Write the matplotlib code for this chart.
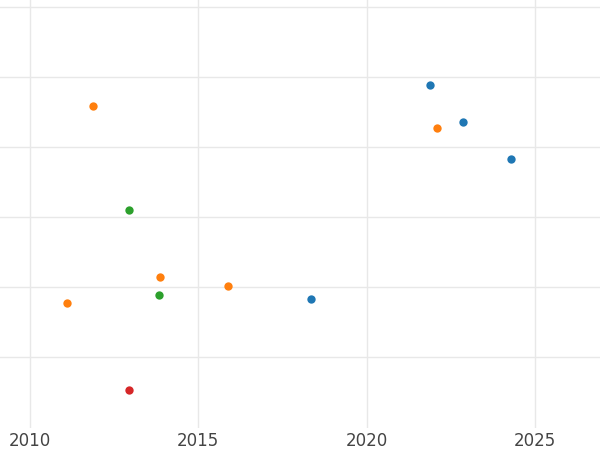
import matplotlib
matplotlib.use("Agg")
import matplotlib.pyplot as plt

blue_x = [2021.88, 2022.86, 2024.29, 2018.35]
blue_y = [3.886, 3.357, 2.829, 0.829]
orange_x = [2011.87, 2022.09, 2013.86, 2015.88, 2011.10]
orange_y = [3.586, 3.271, 1.143, 1.014, 0.771]
green_x = [2012.94, 2013.83]
green_y = [2.1, 0.886]
red_x = [2012.94]
red_y = [-0.471]

fig = plt.figure(figsize=(6, 4.5), dpi=100)
ax = fig.add_axes([0, 0.049, 1, 0.951])
for xs, ys, c in [(blue_x, blue_y, "#1f77b4"), (orange_x, orange_y, "#ff7f0e"),
                  (green_x, green_y, "#2ca02c"), (red_x, red_y, "#d62728")]:
    ax.scatter(xs, ys, s=36, color=c, zorder=3, linewidths=0)
ax.set_xlim(2009.11, 2026.93)
ax.set_ylim(-1.014, 5.1)
ax.set_xticks([2010, 2015, 2020, 2025])
ax.set_yticks([0, 1, 2, 3, 4, 5])
ax.set_yticklabels([])
ax.tick_params(axis="both", length=0, labelsize=12, labelcolor="#444444", pad=3)
ax.grid(True, color="#e8e8e8", linewidth=1)
for s in ax.spines.values():
    s.set_visible(False)
fig.savefig("out.png", dpi=100)
